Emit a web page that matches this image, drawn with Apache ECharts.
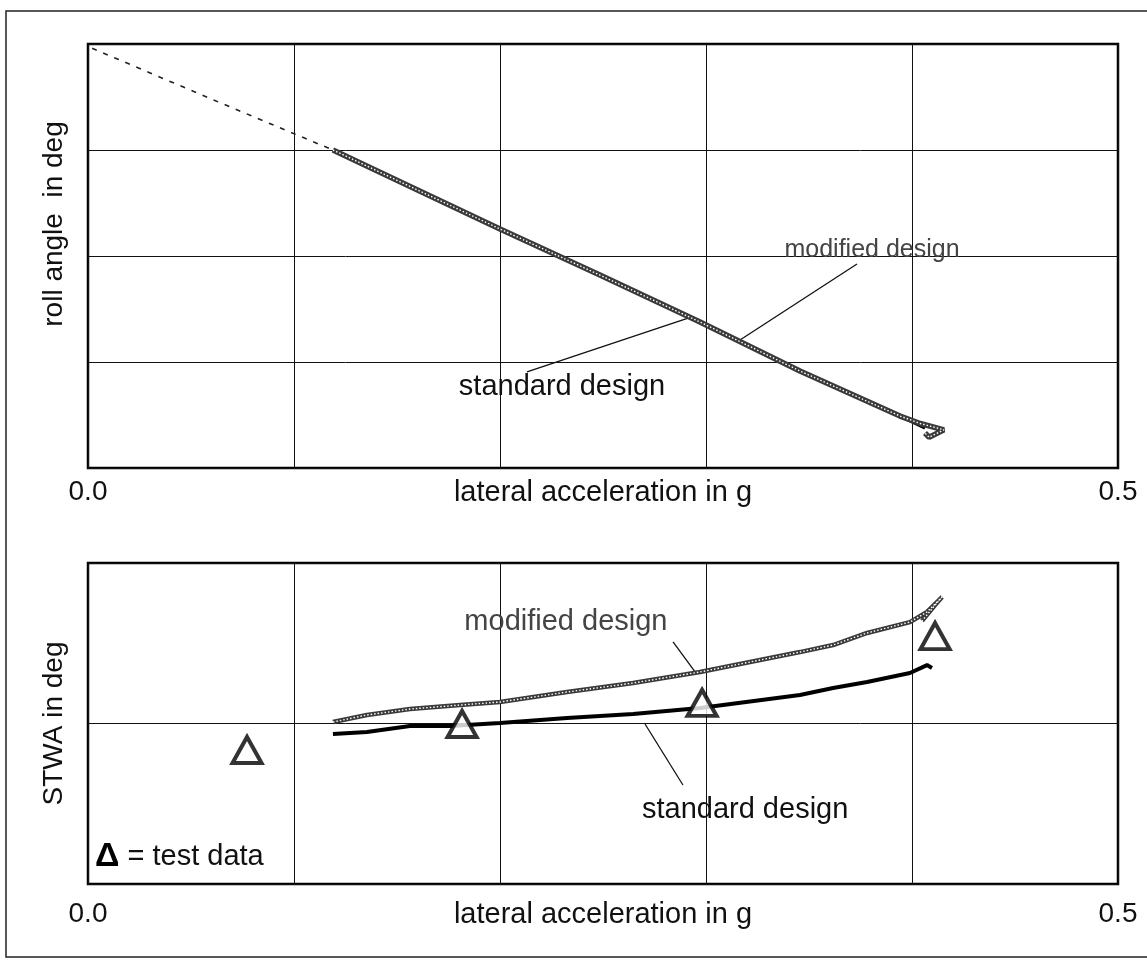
<!DOCTYPE html>
<html>
<head>
<meta charset="utf-8">
<style>
  html, body { margin: 0; padding: 0; background: #fff; }
  #chart { width: 1147px; height: 963px; }
</style>
<script src="https://cdn.jsdelivr.net/npm/echarts@6/dist/echarts.min.js"></script>
</head>
<body>
<div id="chart"></div>
<script>
// x ticks are 0.0 ... 0.5 g, only the ends are labelled
const xTickLabels = ["0.0", "", "", "", "", "0.5"]

// top panel: roll angle (no values printed, grid has 4 rows)
const rollExtrapolated = [[0.002, 3.96], [0.06, 3.48], [0.1189, 3.0]]
const rollStandard = [
  [0.1189, 3.0], [0.2, 2.255], [0.2485, 1.82], [0.2971, 1.377],
  [0.3456, 0.915], [0.3942, 0.49], [0.4063, 0.377]
]
const rollModified = [
  [0.1189, 3.0], [0.2, 2.255], [0.2485, 1.82], [0.2971, 1.377],
  [0.3456, 0.915], [0.3942, 0.49], [0.404, 0.42], [0.4155, 0.36],
  [0.4083, 0.29], [0.4063, 0.33]
]

// bottom panel: steering wheel angle (grid has 2 rows)
const stwaStandard = [
  [0.1189, 0.935], [0.1354, 0.947], [0.1563, 0.984], [0.1757, 0.984],
  [0.2, 1.003], [0.2325, 1.034], [0.2646, 1.059], [0.2971, 1.097],
  [0.3456, 1.178], [0.3617, 1.221], [0.3782, 1.259], [0.399, 1.315],
  [0.4073, 1.364], [0.4097, 1.346]
]
const stwaModified = [
  [0.1189, 1.009], [0.1354, 1.053], [0.1563, 1.09], [0.1806, 1.115],
  [0.2, 1.134], [0.2325, 1.196], [0.2646, 1.252], [0.2971, 1.321],
  [0.3456, 1.445], [0.3617, 1.489], [0.3782, 1.564], [0.399, 1.632],
  [0.4073, 1.695], [0.4146, 1.788], [0.4112, 1.738], [0.4049, 1.639]
]
const stwaTest = [[0.0772, 0.835], [0.1816, 0.997], [0.2981, 1.128], [0.4112, 1.545]]

const font = "Liberation Sans, Arial, sans-serif"
const ink = "#111"

// annotation texts with their leader lines, in data units of each panel
const notes = [
  { grid: 0, text: "modified design", at: [0.3806, 2.06], from: [0.3733, 1.925], to: [0.3165, 1.208], color: "#444", size: 25 },
  { grid: 0, text: "standard design", at: [0.2301, 0.764], from: [0.2131, 0.906], to: [0.2913, 1.415], color: ink, size: 29 },
  { grid: 1, text: "modified design", at: [0.232, 1.632], from: [0.284, 1.508], to: [0.2947, 1.321], color: "#444", size: 29 },
  { grid: 1, text: "standard design", at: [0.319, 0.461], from: [0.2704, 0.997], to: [0.2888, 0.617], color: ink, size: 29 },
]

const chart = echarts.init(document.getElementById("chart"))

const xAxisFor = (gridIndex, gap) => ({
  type: "value",
  gridIndex,
  min: 0,
  max: 0.5,
  interval: 0.1,
  name: "lateral acceleration in g",
  nameLocation: "middle",
  nameGap: gap,
  nameMoveOverlap: false,
  nameTextStyle: { fontFamily: font, fontSize: 29, color: ink, verticalAlign: "top" },
  axisLine: { show: false },
  axisTick: { show: false },
  axisLabel: {
    margin: gap,
    fontFamily: font,
    fontSize: 28,
    color: ink,
    formatter: (v, i) => xTickLabels[i],
  },
  splitLine: { lineStyle: { color: ink, width: 1 } },
})

const yAxisFor = (gridIndex, max, name, shift) => ({
  type: "value",
  gridIndex,
  min: 0,
  max,
  interval: 1,
  name,
  nameLocation: "middle",
  nameGap: 20,
  nameTextStyle: { fontFamily: font, fontSize: 28, color: ink, padding: [0, 0, 0, shift] },
  axisLine: { show: false },
  axisTick: { show: false },
  axisLabel: { show: false },
  splitLine: { lineStyle: { color: ink, width: 1 } },
})

const chainLine = (name, axis, data, width) => [
  {
    name, type: "line", xAxisIndex: axis, yAxisIndex: axis, data,
    showSymbol: false, lineStyle: { color: "#3a3a3a", width }, z: 3,
  },
  {
    name: name + " dots", type: "line", xAxisIndex: axis, yAxisIndex: axis, data,
    showSymbol: false, lineStyle: { color: "#fff", width: 1.4, type: [1.5, 2] }, z: 4,
  },
]

chart.setOption({
  animation: false,
  grid: [
    { left: 88, right: 29, top: 44, height: 424, show: true, borderColor: "#000", borderWidth: 2.5 },
    { left: 88, right: 29, top: 563, height: 321, show: true, borderColor: "#000", borderWidth: 2.5 },
  ],
  xAxis: [xAxisFor(0, 10), xAxisFor(1, 16)],
  yAxis: [yAxisFor(0, 4, "roll angle  in deg", 64), yAxisFor(1, 2, "STWA in deg", 0)],
  series: [
    {
      name: "extrapolated", type: "line", xAxisIndex: 0, yAxisIndex: 0, data: rollExtrapolated,
      showSymbol: false, lineStyle: { color: "#222", width: 1.6, type: [5, 7] },
    },
    {
      name: "standard design", type: "line", xAxisIndex: 0, yAxisIndex: 0, data: rollStandard,
      showSymbol: false, lineStyle: { color: "#000", width: 3 }, z: 2,
    },
    ...chainLine("modified design", 0, rollModified, 5.5),
    {
      name: "standard design", type: "line", xAxisIndex: 1, yAxisIndex: 1, data: stwaStandard,
      showSymbol: false, lineStyle: { color: "#000", width: 4 }, z: 2,
    },
    ...chainLine("modified design", 1, stwaModified, 4.5),
    {
      name: "test data", type: "scatter", xAxisIndex: 1, yAxisIndex: 1, data: stwaTest,
      symbol: "triangle", symbolSize: [29, 26],
      itemStyle: { color: "#fff", borderColor: "#000", borderWidth: 4 }, z: 5,
    },
  ],
})

const toPx = (grid, p) => chart.convertToPixel({ gridIndex: grid }, p)

const graphics = [
  {
    type: "rect",
    shape: { x: 6, y: 11, width: 1160, height: 946 },
    style: { fill: "none", stroke: "#222", lineWidth: 1.5 },
    silent: true,
  },
  {
    type: "text",
    left: 95,
    top: 840,
    style: {
      text: "{d|Δ} = test data",
      rich: { d: { fontFamily: font, fontSize: 34, fontWeight: "bold", fill: "#000" } },
      fontFamily: font,
      fontSize: 29,
      fill: ink,
    },
  },
]

notes.forEach((n) => {
  const [tx, ty] = toPx(n.grid, n.at)
  const [x1, y1] = toPx(n.grid, n.from)
  const [x2, y2] = toPx(n.grid, n.to)
  graphics.push({
    type: "line",
    shape: { x1, y1, x2, y2 },
    style: { stroke: ink, lineWidth: 1.3 },
    silent: true,
  })
  graphics.push({
    type: "text",
    x: tx,
    y: ty,
    style: { text: n.text, fontFamily: font, fontSize: n.size, fill: n.color, align: "center", verticalAlign: "middle" },
    z: 10,
  })
})

chart.setOption({ graphic: graphics })
</script>
</body>
</html>
